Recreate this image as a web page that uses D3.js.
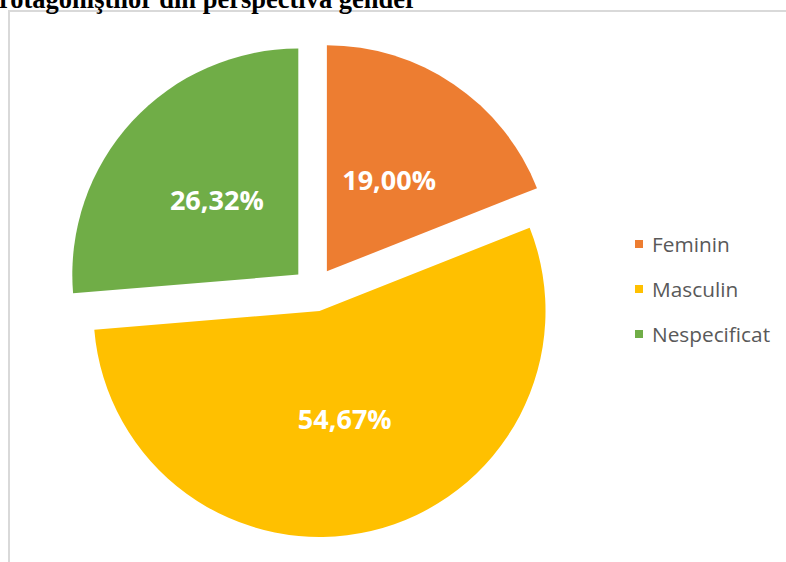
<!DOCTYPE html>
<html>
<head>
<meta charset="utf-8">
<script src="https://cdn.jsdelivr.net/npm/d3@7/dist/d3.min.js"></script>
<style>
  html, body { margin: 0; padding: 0; background: #fff; }
  svg { display: block; }
</style>
</head>
<body>
<svg id="chart" width="786" height="562"></svg>
<script>
// Gender distribution of protagonists
const categories = ["Feminin", "Masculin", "Nespecificat"];
const values = [19.00, 54.67, 26.32];
const labels = ["19,00%", "54,67%", "26,32%"];
const colors = ["#ED7D31", "#FFC000", "#70AD47"];
const titleText = "rotagoniştilor din perspectiva gender";

const svg = d3.select("#chart");

// chart frame
svg.append("rect")
  .attr("x", 9).attr("y", 11)
  .attr("width", 800).attr("height", 600)
  .attr("fill", "#fff")
  .attr("stroke", "#d9d9d9")
  .attr("stroke-width", 2);

// heading above the frame
svg.append("text")
  .attr("x", -1).attr("y", 8)
  .attr("font-family", "Liberation Serif, serif")
  .attr("font-weight", "bold")
  .attr("font-size", 26.5)
  .attr("fill", "#000")
  .text(titleText);

const cx = 314.5, cy = 289.5, r = 226, explode = 22;

const pie = d3.pie().sort(null).value(d => d.value);
const arcs = pie(categories.map((c, i) => ({ name: c, value: values[i], label: labels[i], color: colors[i] })));

const arc = d3.arc().innerRadius(0).outerRadius(r);
const labelArc = d3.arc().innerRadius(0).outerRadius(r * 0.98);

const g = svg.append("g").attr("transform", `translate(${cx},${cy})`);

const slice = g.selectAll("g.slice")
  .data(arcs)
  .join("g")
  .attr("class", "slice")
  .attr("transform", d => {
    const mid = (d.startAngle + d.endAngle) / 2;
    return `translate(${Math.sin(mid) * explode},${-Math.cos(mid) * explode})`;
  });

slice.append("path")
  .attr("d", arc)
  .attr("fill", d => d.data.color);

slice.append("text")
  .attr("transform", d => `translate(${labelArc.centroid(d)})`)
  .attr("text-anchor", "middle")
  .attr("dominant-baseline", "central")
  .attr("font-family", "Open Sans, sans-serif")
  .attr("font-weight", "bold")
  .attr("font-size", 27)
  .attr("fill", "#fff")
  .text(d => d.data.label);

// legend
const legendY = d3.scalePoint().domain(categories).range([244, 334]);
const legend = svg.append("g").selectAll("g")
  .data(arcs)
  .join("g")
  .attr("transform", d => `translate(635,${legendY(d.data.name)})`);

legend.append("rect")
  .attr("x", 0).attr("y", -4)
  .attr("width", 8).attr("height", 8)
  .attr("fill", d => d.data.color);

legend.append("text")
  .attr("x", 17).attr("y", 0)
  .attr("dominant-baseline", "central")
  .attr("font-family", "Open Sans, sans-serif")
  .attr("font-size", 20.8)
  .attr("fill", "#595959")
  .text(d => d.data.name);
</script>
</body>
</html>
